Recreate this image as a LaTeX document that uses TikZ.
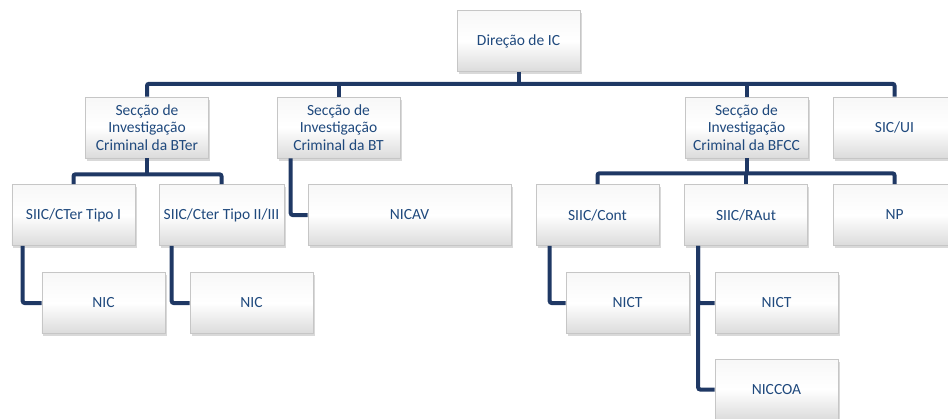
\documentclass[tikz,border=0pt]{standalone}
\usepackage{fontspec}
\setmainfont{Carlito}
\usepackage{tikz}
\usetikzlibrary{calc,shadows}

\definecolor{linkblue}{RGB}{31,56,100}
\definecolor{textblue}{RGB}{31,73,125}

\begin{document}
\begin{tikzpicture}[x=1bp,y=-1bp,
	unit/.style={draw=gray!45,line width=0.6bp,top color=gray!6,bottom color=gray!28,middle color=white,
		minimum width=123bp,minimum height=61bp,inner sep=1bp,align=center,text=textblue,
		font=\fontsize{15.5bp}{17.5bp}\selectfont,
		drop shadow={shadow xshift=1.5bp,shadow yshift=-2.5bp,opacity=0.3}},
	link/.style={draw=linkblue,line width=4bp,rounded corners=2bp}]
	\useasboundingbox (0,0) rectangle (948,418);
	\node[unit] (dir) at (518.5,41) {Direção de IC};
	% seccoes
	\node[unit] (bter) at (147,127.5) {Secção de\\Investigação\\Criminal da BTer};
	\node[unit] (bt) at (338.5,127.5) {Secção de\\Investigação\\Criminal da BT};
	\node[unit] (bfcc) at (746.5,127.5) {Secção de\\Investigação\\Criminal da BFCC};
	\node[unit] (sicui) at (894.5,127.5) {SIC/UI};
	% subseccoes
	\node[unit] (ctera) at (73.5,215) {SIIC/CTer Tipo I};
	\node[unit,minimum width=125bp] (cterb) at (221.5,215) {SIIC/Cter Tipo II/III};
	\node[unit,minimum width=203bp] (nicav) at (409.5,215) {NICAV};
	\node[unit] (cont) at (597.5,215) {SIIC/Cont};
	\node[unit] (raut) at (746,215) {SIIC/RAut};
	\node[unit] (np) at (894.5,215) {NP};
	% nucleos
	\node[unit] (nica) at (103.5,303) {NIC};
	\node[unit] (nicb) at (251.5,303) {NIC};
	\node[unit] (nicta) at (627.5,303) {NICT};
	\node[unit] (nictb) at (776.5,303) {NICT};
	\node[unit] (niccoa) at (776.5,389.5) {NICCOA};

	\coordinate (bus) at ($(dir.south)+(0,12)$);
	\draw[link] (bter.north) |- (bus) -| (sicui.north);
	\draw[link] (dir.south) -- (bus);
	\draw[link] (bt.north) -- (bt.north |- bus);
	\draw[link] (bfcc.north) -- (bfcc.north |- bus);

	\coordinate (bterbus) at ($(bter.south)+(0,16)$);
	\draw[link] (ctera.north) |- (bterbus) -| (cterb.north);
	\draw[link] (bter.south) -- (bterbus);
	\draw[link] ([xshift=14bp]bt.south west) |- (nicav.west);
	\draw[link] ([xshift=11bp]ctera.south west) |- (nica.west);
	\draw[link] ([xshift=13bp]cterb.south west) |- (nicb.west);

	\coordinate (bfccbus) at ($(bfcc.south)+(0,15)$);
	\draw[link] (cont.north) |- (bfccbus) -| (np.north);
	\draw[link] (bfcc.south) -- (bfccbus);
	\draw[link] (raut.north) -- (raut.north |- bfccbus);
	\draw[link] ([xshift=14bp]cont.south west) |- (nicta.west);
	\draw[link] ([xshift=14bp]raut.south west) |- (nictb.west);
	\draw[link] ([xshift=14bp]raut.south west) |- (niccoa.west);
\end{tikzpicture}
\end{document}
